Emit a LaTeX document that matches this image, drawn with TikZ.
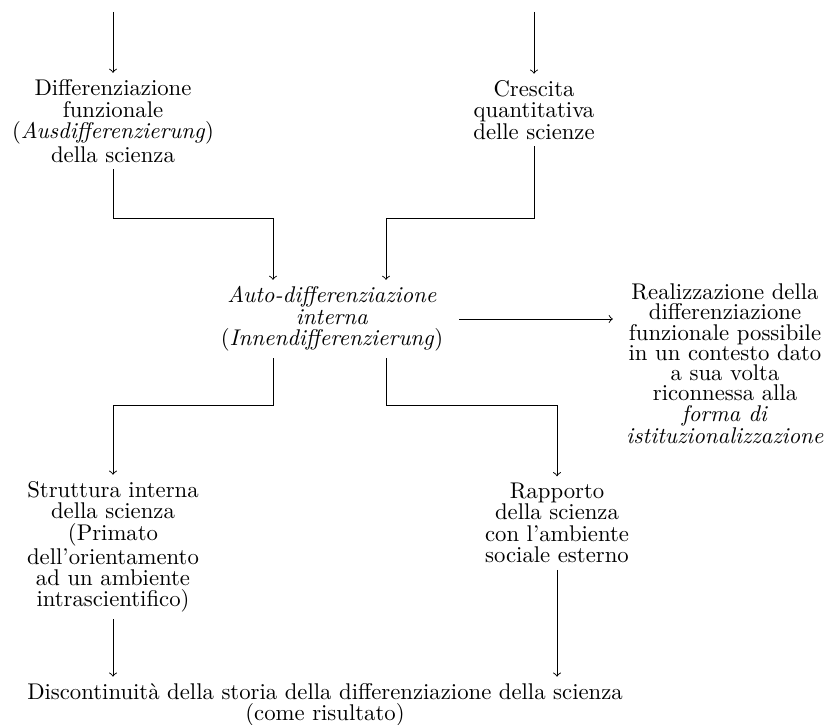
\documentclass[tikz,border=0pt]{standalone}
\usepackage{amssymb}
\usepackage{amsmath}

\begin{document}
\begin{tikzpicture}[x=0.44pt,y=0.44pt,yscale=-1,xscale=1,
  txt/.style={align=center,inner sep=1pt,outer sep=2pt,font=\fontsize{10}{9.4}\selectfont},
  arr/.style={->,line width=0.4pt}]
\useasboundingbox (0,0) rectangle (832,724);

% Text Node
\node (diff) at (113,121) [txt] {Differenziazione\\funzionale\\(\textit{Ausdifferenzierung})\\della scienza};
% Text Node
\node (cresc) at (534,110) [txt] {Crescita\\quantitativa\\delle scienze};
% Text Node
\node (auto) at (332,319) [txt] {\textit{Auto-differenziazione}\\\textit{interna}\\(\textit{Innendifferenzierung})};
% Text Node
\node (real) at (725,364) [txt,font=\fontsize{10}{8.9}\selectfont] {Realizzazione della\\differenziazione\\funzionale possibile\\in un contesto dato\\a sua volta\\riconnessa alla\\\textit{forma di}\\\textit{istituzionalizzazione}};
% Text Node
\node (strutt) at (113,547) [txt] {Struttura interna\\della scienza\\(Primato\\dell'orientamento\\ad un ambiente\\intrascientifico)};
% Text Node
\node (rapp) at (557,523) [txt] {Rapporto\\della scienza\\con l'ambiente\\sociale esterno};
% Text Node
\node (disc) at (325,705) [txt] {Discontinuità della storia della differenziazione della scienza\\(come risultato)};

%Corners
\coordinate (top1) at (113,12);
\coordinate (top2) at (534,12);
\coordinate (k1) at (273,218);
\coordinate (k2) at (386,218);
\coordinate (k3) at (113,405);
\coordinate (k4) at (557,405);

%Straight Lines
\draw [arr] (top1) -- (diff.north);
\draw [arr] (top2) -- (cresc.north);
\draw [arr] (diff.south) |- (k1) -- (k1 |- auto.north);
\draw [arr] (cresc.south) |- (k2) -- (k2 |- auto.north);
\draw [arr] ([xshift=4pt]auto.east) -- ([xshift=-3pt]auto.east -| real.west);
\draw [arr] (auto.south -| k1) |- (k3) -- (k3 |- strutt.north);
\draw [arr] (auto.south -| k2) |- (k4) -- (k4 |- rapp.north);
\draw [arr] (strutt.south) -- (strutt.south |- disc.north);
\draw [arr] (rapp.south) -- (rapp.south |- disc.north);

\end{tikzpicture}
\end{document}
